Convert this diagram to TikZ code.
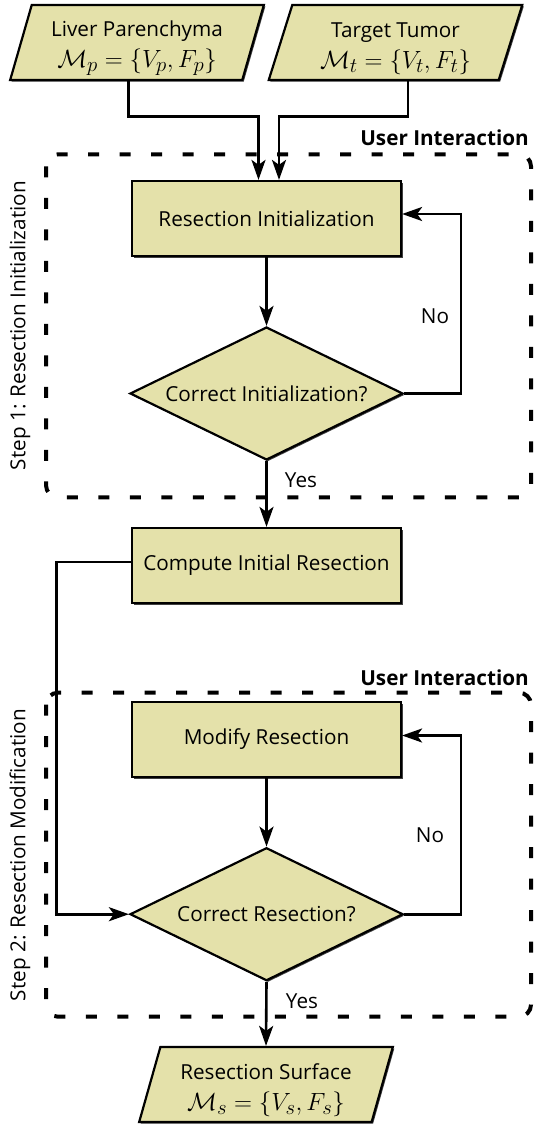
\documentclass[tikz,border=0pt]{standalone}
\usepackage{fontspec}
\setmainfont{Open Sans}
\usetikzlibrary{shapes.geometric,arrows.meta,shadows,calc}
\definecolor{boxfill}{RGB}{228,225,170}
\newcommand{\bigmath}[1]{{\fontsize{28}{31}\selectfont$#1$}}
\newcommand{\topstrut}{\rule{0pt}{27pt}}
\begin{document}
\begin{tikzpicture}[x=1pt,y=-1pt,
  font=\fontsize{20.7}{31}\selectfont,
  shad/.style={drop shadow={shadow xshift=1.5pt,shadow yshift=-1.5pt,fill=black!75,opacity=1}},
  procbox/.style={rectangle,draw=black,line width=2.2pt,fill=boxfill,shad,minimum width=269pt,minimum height=75pt,inner sep=0pt},
  decision/.style={diamond,draw=black,line width=2.2pt,fill=boxfill,shad,aspect=2.05,minimum width=273pt,minimum height=133pt,inner sep=0pt},
  iobox/.style={trapezium,trapezium left angle=75,trapezium right angle=105,trapezium stretches=true,draw=black,line width=2.2pt,fill=boxfill,shad,minimum width=254pt,minimum height=75pt,inner sep=0pt,align=center},
  arr/.style={line width=2.6pt,-{Stealth[length=20pt,width=14pt,inset=5pt]}},
  groupbox/.style={draw=black,line width=4pt,dash pattern=on 11pt off 20.5pt,rounded corners=12pt},
  lbl/.style={inner sep=0pt},
  boldlbl/.style={inner sep=0pt,font=\fontsize{20.7}{24}\selectfont\bfseries},
]
\useasboundingbox (0,0) rectangle (533,1124);

% dashed interaction groups
\draw[groupbox] (46,154.3) rectangle (531,497.3);
\draw[groupbox] (46,692.7) rectangle (531,1016.7);
\node[boldlbl,anchor=east] (ui1) at (529,138) {User Interaction};
\node[boldlbl,anchor=east] (ui2) at (529,678) {User Interaction};
\node[lbl,rotate=90] (step1) at (20,325.7) {Step 1: Resection Initialization};
\node[lbl,rotate=90] (step2) at (20,855) {Step 2: Resection Modification};

% nodes
\node[iobox] (liver) at (137,42.5) {\topstrut Liver Parenchyma\\\bigmath{\mathcal{M}_p=\{V_p,F_p\}}};
\node[iobox] (tumor) at (395.5,42.5) {\topstrut Target Tumor\\\bigmath{\mathcal{M}_t=\{V_t,F_t\}}};
\node[procbox] (init) at (266.5,218.5) {Resection Initialization};
\node[decision] (dec1) at (266.5,393.5) {Correct Initialization?};
\node[procbox] (compute) at (266.5,565.5) {Compute Initial Resection};
\node[procbox] (modify) at (266.5,739.5) {Modify Resection};
\node[decision] (dec2) at (266.5,914.2) {Correct Resection?};
\node[iobox] (surface) at (266,1084.5) {\topstrut Resection Surface\\\bigmath{\mathcal{M}_s=\{V_s,F_s\}}};

% labels
\node[lbl] (no1) at (435,316) {No};
\node[lbl] (yes1) at (301,480) {Yes};
\node[lbl] (no2) at (430,835) {No};
\node[lbl] (yes2) at (302,1001) {Yes};

% helper coordinates
\coordinate (lp) at (128.5,116.7);
\coordinate (tp) at (408,116.7);
\coordinate (la) at (258.5,0);
\coordinate (ta) at (279,0);
\coordinate (r1) at (461,0);
\coordinate (l2) at (56.7,0);

% connectors
\draw[arr] (lp |- liver.south) -- (lp) -| (la |- init.north);
\draw[arr] (tp |- tumor.south) -- (tp) -| (ta |- init.north);
\draw[arr] (init.south) -- (dec1.north);
\draw[arr] (dec1.east) -- (dec1.east -| r1) |- ([yshift=4.5pt]init.east);
\draw[arr] (dec1.south) -- (compute.north);
\draw[arr] ([yshift=3.5pt]compute.west) -| (l2 |- dec2.west) -- (dec2.west);
\draw[arr] (modify.south) -- (dec2.north);
\draw[arr] (dec2.east) -- (dec2.east -| r1) |- ([yshift=4pt]modify.east);
\draw[arr] (dec2.south) -- (surface.north);
\end{tikzpicture}
\end{document}
